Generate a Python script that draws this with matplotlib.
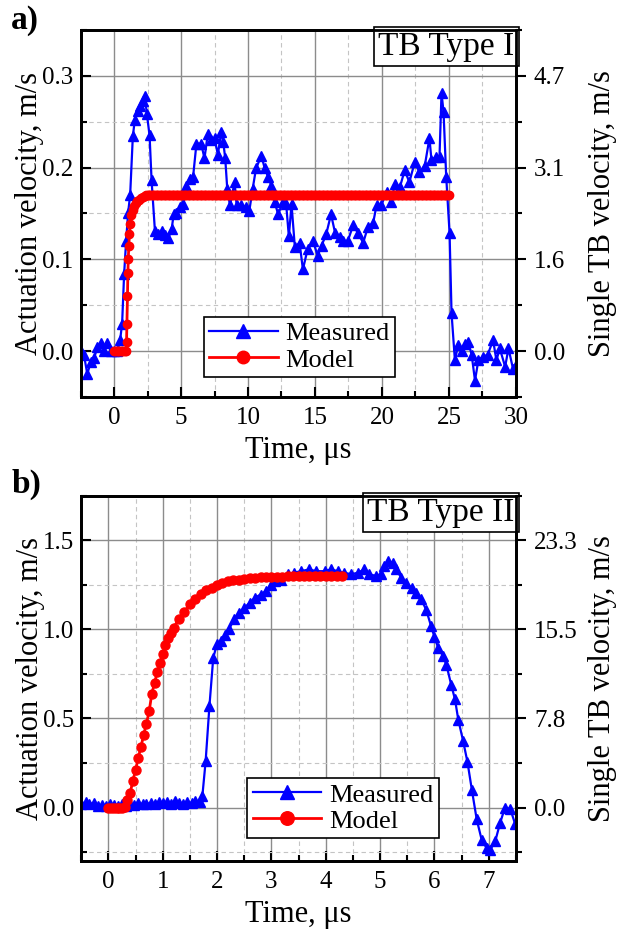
import matplotlib
matplotlib.use("Agg")
import matplotlib.pyplot as plt
from matplotlib.ticker import MultipleLocator, FixedLocator

plt.rcParams['font.family'] = ['Liberation Serif', 'DejaVu Serif']

# ---------------- Panel a data (TB Type I): (time us, velocity m/s) ----------------
a_measured = [(-2.5, 0.0), (-2.25, -0.004), (-2.0, -0.025), (-1.75, -0.012), (-1.5, -0.008),
              (-1.25, 0.004), (-1.0, 0.009), (-0.75, 0.0), (-0.5, 0.009), (-0.25, 0.0), (0.0, 0.0),
              (0.25, 0.0), (0.45, 0.012), (0.6, 0.03), (0.75, 0.084), (0.9, 0.12), (1.05, 0.151),
              (1.2, 0.17), (1.4, 0.234), (1.55, 0.252), (1.75, 0.262), (1.95, 0.267), (2.15, 0.272),
              (2.3, 0.278), (2.45, 0.258), (2.65, 0.235), (2.8, 0.186), (3.05, 0.131), (3.3, 0.128),
              (3.55, 0.131), (3.8, 0.127), (4.05, 0.123), (4.3, 0.133), (4.45, 0.149), (4.65, 0.151),
              (4.9, 0.157), (5.15, 0.160), (5.4, 0.18), (5.65, 0.188), (5.9, 0.19), (6.15, 0.226),
              (6.5, 0.226), (6.75, 0.21), (7.0, 0.237), (7.25, 0.230), (7.5, 0.232), (7.75, 0.214),
              (8.0, 0.239), (8.15, 0.228), (8.3, 0.21), (8.45, 0.177), (8.65, 0.159), (9.0, 0.184),
              (9.15, 0.159), (9.5, 0.159), (9.85, 0.157), (10.1, 0.153), (10.35, 0.177), (10.6, 0.199),
              (11.0, 0.213), (11.25, 0.199), (11.5, 0.19), (11.75, 0.18), (12.0, 0.162), (12.25, 0.149),
              (12.6, 0.162), (12.85, 0.16), (13.05, 0.125), (13.25, 0.16), (13.5, 0.113), (13.85, 0.118),
              (14.1, 0.089), (14.45, 0.111), (14.85, 0.12), (15.2, 0.104), (15.5, 0.115), (15.85, 0.128),
              (16.2, 0.149), (16.5, 0.129), (16.85, 0.124), (17.1, 0.12), (17.45, 0.12), (17.85, 0.137),
              (18.2, 0.129), (18.6, 0.118), (18.95, 0.135), (19.35, 0.14), (19.6, 0.159), (19.95, 0.159),
              (20.35, 0.173), (20.7, 0.162), (20.95, 0.182), (21.35, 0.179), (21.7, 0.197), (22.05, 0.184),
              (22.45, 0.206), (22.8, 0.195), (23.2, 0.202), (23.55, 0.232), (23.7, 0.208), (24.05, 0.212),
              (24.3, 0.212), (24.45, 0.281), (24.6, 0.261), (24.8, 0.19), (25.05, 0.129), (25.2, 0.041),
              (25.45, -0.01), (25.7, 0.007), (25.95, 0.0), (26.2, 0.008), (26.45, 0.01), (26.7, -0.004),
              (26.95, -0.032), (27.2, -0.01), (27.55, -0.006), (27.9, -0.004), (28.3, 0.012),
              (28.55, -0.01), (28.8, 0.003), (29.2, -0.017), (29.45, 0.003), (29.8, -0.02), (30.0, -0.015)]

a_model_rise = [(0.0, 0.0), (0.1, 0.0), (0.2, 0.0), (0.3, 0.0), (0.4, 0.0), (0.5, 0.0), (0.6, 0.0),
                (0.7, 0.0), (0.8, 0.0), (0.9, 0.0), (0.93, 0.01), (0.96, 0.03), (1.0, 0.06),
                (1.03, 0.085), (1.06, 0.10), (1.1, 0.115), (1.15, 0.128), (1.2, 0.138), (1.3, 0.148),
                (1.4, 0.154), (1.5, 0.158), (1.6, 0.161), (1.7, 0.163), (1.85, 0.165), (2.0, 0.167),
                (2.15, 0.168), (2.3, 0.169)]
a_model_plateau_t = [2.4, 2.5, 2.6, 2.7, 2.8, 2.9, 3.0, 3.1, 3.2, 3.3, 3.4, 3.5, 3.6, 3.7, 3.8, 3.9,
                     4.0, 4.1, 4.2, 4.3, 4.4, 4.5, 4.6, 4.7, 4.8, 4.9, 5.0, 5.1, 5.2, 5.3, 5.4, 5.5,
                     5.6, 5.7, 5.8, 5.9, 6.0, 6.1, 6.2, 6.3, 6.4, 6.5, 6.6, 6.7, 6.8, 6.9, 7.0, 7.1,
                     7.2, 7.3, 7.4, 7.5, 7.6, 7.7, 7.8, 7.9, 8.0, 8.1, 8.2, 8.3, 8.4, 8.5, 8.6, 8.7,
                     8.8, 8.9, 9.0, 9.1, 9.2, 9.3, 9.4, 9.5, 9.6, 9.7, 9.8, 9.9, 10.0, 10.1, 10.2,
                     10.3, 10.4, 10.5, 10.6, 10.7, 10.8, 10.9, 11.0, 11.1, 11.2, 11.3, 11.4, 11.5,
                     11.6, 11.7, 11.8, 11.9, 12.0, 12.1, 12.2, 12.3, 12.4, 12.5, 12.6, 12.7, 12.8,
                     12.9, 13.0, 13.1, 13.2, 13.3, 13.4, 13.5, 13.6, 13.7, 13.8, 13.9, 14.0, 14.1,
                     14.2, 14.3, 14.4, 14.5, 14.6, 14.7, 14.8, 14.9, 15.0, 15.1, 15.2, 15.3, 15.4,
                     15.5, 15.6, 15.7, 15.8, 15.9, 16.0, 16.1, 16.2, 16.3, 16.4, 16.5, 16.6, 16.7,
                     16.8, 16.9, 17.0, 17.1, 17.2, 17.3, 17.4, 17.5, 17.6, 17.7, 17.8, 17.9, 18.0,
                     18.1, 18.2, 18.3, 18.4, 18.5, 18.6, 18.7, 18.8, 18.9, 19.0, 19.1, 19.2, 19.3,
                     19.4, 19.5, 19.6, 19.7, 19.8, 19.9, 20.0, 20.1, 20.2, 20.3, 20.4, 20.5, 20.6,
                     20.7, 20.8, 20.9, 21.0, 21.1, 21.2, 21.3, 21.4, 21.5, 21.6, 21.7, 21.8, 21.9,
                     22.0, 22.1, 22.2, 22.3, 22.4, 22.5, 22.6, 22.7, 22.8, 22.9, 23.0, 23.1, 23.2,
                     23.3, 23.4, 23.5, 23.6, 23.7, 23.8, 23.9, 24.0, 24.1, 24.2, 24.3, 24.4, 24.5,
                     24.6, 24.7, 24.8, 24.9, 25.0]
a_model_plateau_v = 0.17

a_left_ticks = [0.0, 0.1, 0.2, 0.3]
a_left_labels = ["0.0", "0.1", "0.2", "0.3"]
a_right_labels = ["0.0", "1.6", "3.1", "4.7"]
a_xticks = [0, 5, 10, 15, 20, 25, 30]

# ---------------- Panel b data (TB Type II) ----------------
b_measured = [(-0.5, 0.02), (-0.42, 0.03), (-0.35, 0.02), (-0.27, 0.025), (-0.2, 0.01), (-0.12, 0.015),
              (-0.05, 0.01), (0.03, 0.02), (0.1, 0.015), (0.18, 0.01), (0.25, 0.02), (0.33, 0.01),
              (0.4, 0.02), (0.48, 0.015), (0.55, 0.025), (0.63, 0.02), (0.7, 0.02), (0.78, 0.025),
              (0.85, 0.02), (0.93, 0.03), (1.0, 0.025), (1.08, 0.03), (1.15, 0.02), (1.23, 0.035),
              (1.3, 0.025), (1.38, 0.02), (1.45, 0.03), (1.53, 0.025), (1.6, 0.035), (1.68, 0.03),
              (1.73, 0.065), (1.79, 0.26), (1.86, 0.57), (1.93, 0.84), (2.0, 0.92), (2.08, 0.935),
              (2.15, 0.97), (2.22, 1.0), (2.31, 1.056), (2.4, 1.093), (2.5, 1.12), (2.6, 1.15),
              (2.7, 1.178), (2.8, 1.196), (2.9, 1.215), (2.99, 1.25), (3.06, 1.27), (3.17, 1.28),
              (3.3, 1.31), (3.42, 1.318), (3.54, 1.327), (3.7, 1.337), (3.82, 1.327), (3.98, 1.327),
              (4.1, 1.337), (4.22, 1.327), (4.34, 1.318), (4.47, 1.31), (4.59, 1.318), (4.71, 1.337),
              (4.8, 1.31), (4.93, 1.30), (5.02, 1.31), (5.08, 1.356), (5.15, 1.384), (5.24, 1.375),
              (5.3, 1.337), (5.39, 1.29), (5.48, 1.26), (5.58, 1.233), (5.67, 1.205), (5.76, 1.168),
              (5.85, 1.11), (5.94, 1.018), (6.0, 0.96), (6.07, 0.897), (6.16, 0.85), (6.22, 0.803),
              (6.31, 0.69), (6.38, 0.607), (6.44, 0.494), (6.53, 0.373), (6.61, 0.255), (6.69, 0.10),
              (6.78, -0.067), (6.87, -0.18), (6.96, -0.227), (7.03, -0.236), (7.12, -0.19),
              (7.21, -0.087), (7.3, 0.0), (7.4, -0.01), (7.49, -0.095)]

b_model = [(0.0, 0.0), (0.05, 0.0), (0.1, 0.0), (0.15, 0.0), (0.2, 0.0), (0.25, 0.0), (0.3, 0.005),
           (0.35, 0.04), (0.4, 0.08), (0.45, 0.15), (0.5, 0.21), (0.55, 0.28), (0.6, 0.34), (0.65, 0.41),
           (0.7, 0.47), (0.75, 0.54), (0.8, 0.64), (0.85, 0.70), (0.9, 0.76), (0.95, 0.81), (1.0, 0.86),
           (1.05, 0.91), (1.1, 0.95), (1.15, 0.98), (1.2, 1.01), (1.3, 1.06), (1.4, 1.1), (1.5, 1.14),
           (1.6, 1.17), (1.7, 1.2), (1.8, 1.22), (1.9, 1.235), (2.0, 1.25), (2.1, 1.26), (2.2, 1.27),
           (2.3, 1.275), (2.4, 1.28), (2.5, 1.285), (2.6, 1.288), (2.7, 1.29), (2.8, 1.292),
           (2.9, 1.294), (3.0, 1.295), (3.1, 1.296), (3.2, 1.297), (3.3, 1.298), (3.4, 1.298),
           (3.5, 1.299), (3.6, 1.3), (3.7, 1.3), (3.8, 1.3), (3.9, 1.3), (4.0, 1.3), (4.1, 1.3),
           (4.2, 1.3), (4.3, 1.3)]

b_left_ticks = [0.0, 0.5, 1.0, 1.5]
b_left_labels = ["0.0", "0.5", "1.0", "1.5"]
b_right_labels = ["0.0", "7.8", "15.5", "23.3"]
b_xticks = [0, 1, 2, 3, 4, 5, 6, 7]

BLUE = "#0000ff"
RED = "#ff0000"
TICK_FS = 18
LABEL_FS = 22


def split(pairs):
    return [p[0] for p in pairs], [p[1] for p in pairs]


a_mt, a_mv = split(a_measured)
a_rt, a_rv = split(a_model_rise)
a_model_t = a_rt + a_model_plateau_t
a_model_v = a_rv + [a_model_plateau_v for _ in a_model_plateau_t]
b_mt, b_mv = split(b_measured)
b_rt, b_rv = split(b_model)

fig = plt.figure(figsize=(6.2, 9.32), dpi=100)


def setup(ax, xlim, ylim, xmin, ymin, yticks, ylabels, rlabels, xticks, title, letter, lx, ly):
    ax.set_xlim(*xlim)
    ax.set_ylim(*ylim)
    ax.xaxis.set_major_locator(FixedLocator(xticks))
    ax.xaxis.set_minor_locator(MultipleLocator(xmin))
    ax.yaxis.set_major_locator(FixedLocator(yticks))
    ax.set_yticklabels(ylabels)
    ax.yaxis.set_minor_locator(MultipleLocator(ymin))
    ax.grid(which='major', color='#8c8c8c', linestyle='-', linewidth=1.0)
    ax.grid(which='minor', color='#c4c4c4', linestyle=(0, (4, 3)), linewidth=0.8)
    ax.set_axisbelow(True)
    ax.tick_params(which='both', direction='in', top=False, right=False, labelsize=TICK_FS, width=1.5)
    ax.tick_params(which='major', length=7)
    ax.tick_params(which='minor', length=4)
    ax.tick_params(axis='x', which='major', pad=7)
    ax.tick_params(axis='y', which='major', pad=5)
    for s in ax.spines.values():
        s.set_linewidth(2.0)
    ax.set_xlabel("Time, μs", fontsize=LABEL_FS, labelpad=5)
    ax.set_ylabel("Actuation velocity, m/s", fontsize=LABEL_FS)
    ax.yaxis.set_label_coords(-0.083, 0.5)
    ax2 = ax.twinx()
    ax2.set_ylim(*ylim)
    ax2.yaxis.set_major_locator(FixedLocator(yticks))
    ax2.set_yticklabels(rlabels)
    ax2.yaxis.set_minor_locator(MultipleLocator(ymin))
    ax2.tick_params(which='both', direction='out', labelsize=TICK_FS, width=1.5)
    ax2.tick_params(which='major', length=7, pad=6)
    ax2.tick_params(which='minor', length=4)
    ax2.set_ylabel("Single TB velocity, m/s", fontsize=LABEL_FS)
    ax2.yaxis.set_label_coords(1.165, 0.5)
    for s in ax2.spines.values():
        s.set_linewidth(2.0)
    ax.text(0.997, 0.996, title, transform=ax.transAxes, ha='right', va='top', fontsize=24,
            bbox=dict(boxstyle='square,pad=0.12', facecolor='white', edgecolor='black', linewidth=1.2),
            zorder=10)
    fig.text(lx, ly, letter, fontsize=24, fontweight='bold', ha='left', va='top')
    return ax2


def legend(ax, anchor):
    lg = ax.legend(loc='lower left', bbox_to_anchor=anchor, fontsize=19, frameon=True, fancybox=False,
                   edgecolor='black', framealpha=1, handlelength=2.6, markerscale=1.5, borderpad=0.2,
                   labelspacing=0.1, handletextpad=0.3, borderaxespad=0)
    lg.get_frame().set_linewidth(1.2)
    lg.set_zorder(20)


# Panel a
ax_a = fig.add_axes([0.130, 0.574, 0.702, 0.394])
ax_a.plot(a_mt, a_mv, color=BLUE, marker='^', markersize=7, linewidth=1.6, label='Measured', zorder=3)
ax_a.plot(a_model_t, a_model_v, color=RED, marker='o', markersize=6, linewidth=2, label='Model', zorder=4)
setup(ax_a, (-2.5, 30), (-0.05, 0.35), 2.5, 0.05, a_left_ticks, a_left_labels,
      a_right_labels, a_xticks, "TB Type I", "a)", 0.018, 0.995)
legend(ax_a, (0.283, 0.055))

# Panel b
ax_b = fig.add_axes([0.131, 0.0762, 0.701, 0.3918])
ax_b.plot(b_mt, b_mv, color=BLUE, marker='^', markersize=7, linewidth=1.6, label='Measured', zorder=3)
ax_b.plot(b_rt, b_rv, color=RED, marker='o', markersize=6.5, linewidth=2, label='Model', zorder=4)
setup(ax_b, (-0.5, 7.5), (-0.3, 1.75), 0.5, 0.25, b_left_ticks, b_left_labels,
      b_right_labels, b_xticks, "TB Type II", "b)", 0.018, 0.497)
legend(ax_b, (0.382, 0.063))

fig.savefig("out.png", dpi=100)
